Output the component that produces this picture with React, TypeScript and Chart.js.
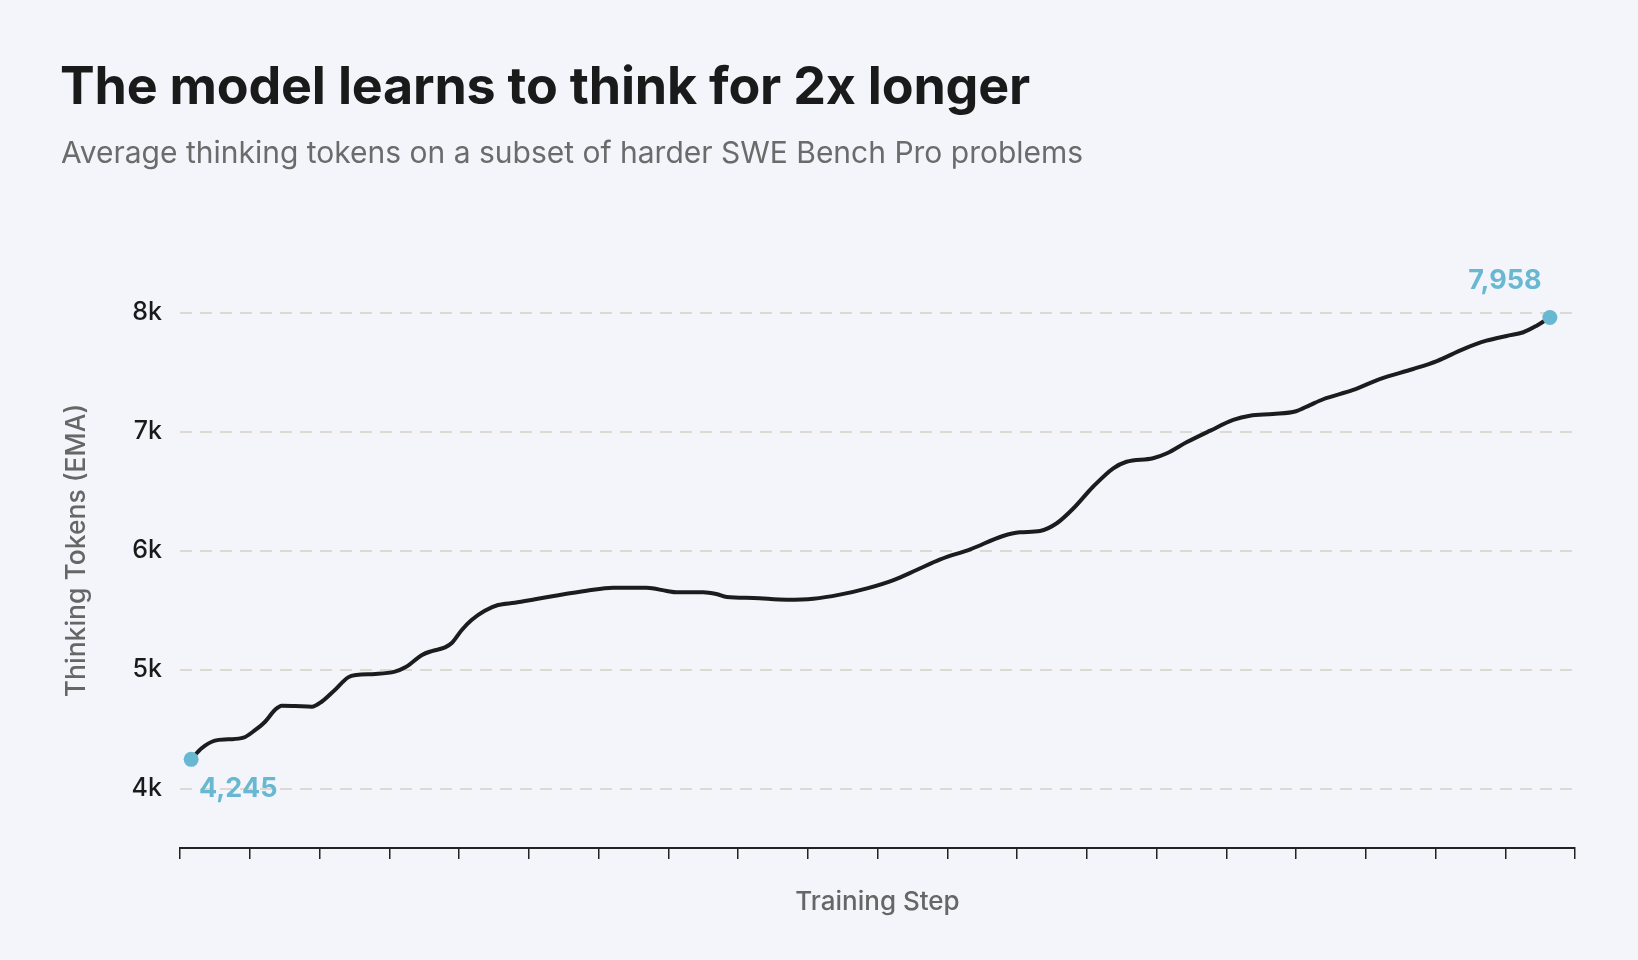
import React, { useEffect, useRef } from 'react';
import { Chart, registerables } from 'chart.js';

Chart.register(...registerables);

const TITLE = 'The model learns to think for 2x longer';
const SUBTITLE = 'Average thinking tokens on a subset of harder SWE Bench Pro problems';
const X_TITLE = 'Training Step';
const Y_TITLE = 'Thinking Tokens (EMA)';

const steps = [
  1.6, 3.1, 5.0, 6.9, 9.1, 10.8, 12.2, 13.6, 14.6, 16.5, 18.9, 20.3, 22.2, 24.1, 25.3, 28.0,
  30.8, 32.3, 34.7, 36.1, 38.0, 39.0, 40.4, 41.8, 43.7, 45.6, 48.0, 50.9, 53.8, 58.3, 62.1,
  66.9, 69.8, 71.2, 75.0, 76.9, 78.4, 82.2, 87.0, 90.8, 94.6, 98.5, 102.3, 105.6, 109.0, 113.3,
  118.0, 120.4, 123.3, 125.7, 128.1, 130.9, 133.8, 135.7, 139.5, 141.5, 144.3, 147.7, 151.0,
  153.4, 156.7, 160.0, 162.0, 163.9, 168.2, 172.0, 176.8, 180.2, 184.0, 187.3, 190.2, 192.6,
  194.5, 196.4,
];

const tokens = [
  4245, 4338, 4402, 4413, 4427, 4492, 4561, 4660, 4696, 4693, 4687, 4729, 4828, 4934, 4954, 4962,
  4982, 5018, 5122, 5155, 5186, 5225, 5332, 5416, 5494, 5542, 5561, 5590, 5620, 5662, 5687,
  5687, 5660, 5649, 5649, 5634, 5609, 5601, 5587, 5595, 5629, 5682, 5752, 5836, 5925, 6010,
  6122, 6153, 6164, 6229, 6355, 6536, 6691, 6746, 6775, 6817, 6909, 7007, 7097,
  7133, 7147, 7170, 7222, 7271, 7349, 7441, 7525, 7592, 7693, 7763, 7803, 7834,
  7889, 7958,
];

const yTickValues = [4000, 5000, 6000, 7000, 8000];
const yTickLabels = ['4k', '5k', '6k', '7k', '8k'];
const xRange = [0, 200];
const xTickStep = 10;

const BG = '#f4f5fb';
const ACCENT = '#69b8d1';

const endLabels = {
  id: 'endLabels',
  afterDatasetsDraw(chart: any) {
    const meta = chart.getDatasetMeta(0);
    const ctx = chart.ctx;
    const n = tokens.length;
    const items = [
      { i: 0, dx: 47, dy: 30 },
      { i: n - 1, dx: -45, dy: -37 },
    ];
    ctx.save();
    ctx.font = '700 27px Inter';
    ctx.fillStyle = ACCENT;
    ctx.textAlign = 'center';
    ctx.textBaseline = 'middle';
    for (const it of items) {
      const p = meta.data[it.i];
      ctx.fillText(tokens[it.i].toLocaleString('en-US'), p.x + it.dx, p.y + it.dy);
    }
    ctx.restore();
  },
};

export default function App() {
  const ref = useRef<HTMLCanvasElement | null>(null);

  useEffect(() => {
    document.body.style.margin = '0';
    document.body.style.background = BG;
    Chart.defaults.font.family = 'Inter';
    const n = tokens.length;
    const chart = new Chart(ref.current as HTMLCanvasElement, {
      type: 'line',
      data: {
        datasets: [
          {
            data: steps.map((s, i) => ({ x: s, y: tokens[i] })),
            borderColor: '#1c1c1e',
            borderWidth: 4,
            cubicInterpolationMode: 'monotone',
            pointRadius: (c: any) => (c.dataIndex === 0 || c.dataIndex === n - 1 ? 7.5 : 0),
            pointHoverRadius: 0,
            pointBackgroundColor: ACCENT,
            pointBorderWidth: 0,
            clip: false as any,
          },
        ],
      },
      options: {
        animation: false,
        responsive: false,
        devicePixelRatio: 1,
        layout: { padding: { left: 61, right: 63, top: 253, bottom: 0 } },
        plugins: { legend: { display: false }, tooltip: { enabled: false } },
        scales: {
          x: {
            type: 'linear',
            min: xRange[0],
            max: xRange[1],
            ticks: { display: false, stepSize: xTickStep },
            grid: {
              drawOnChartArea: false,
              drawTicks: true,
              tickLength: 11,
              color: '#222222',
              lineWidth: 1.5,
            },
            border: { display: true, color: '#222222', width: 2 },
            title: {
              display: true,
              text: X_TITLE,
              color: '#666666',
              font: { size: 26, weight: 500 as any },
              padding: { top: 0, bottom: 42 },
            },
            afterFit: (s: any) => {
              s.height = 112;
            },
          },
          y: {
            type: 'linear',
            min: 3500,
            max: 8500,
            afterBuildTicks: (s: any) => {
              s.ticks = yTickValues.map((v) => ({ value: v }));
            },
            ticks: {
              padding: 18,
              color: '#1a1a1a',
              font: { size: 25, weight: 500 as any },
              callback: (v: any) => {
                const idx = yTickValues.indexOf(Number(v));
                return idx >= 0 ? yTickLabels[idx] : '';
              },
            },
            grid: { drawTicks: false, color: '#dcd8d2', lineWidth: 2 },
            border: { display: false, dash: [12, 8] },
            title: {
              display: true,
              text: Y_TITLE,
              color: '#666666',
              font: { size: 26.5, weight: 500 as any },
              padding: { top: 0, bottom: 0 },
            },
            afterFit: (s: any) => {
              s.width = 119;
            },
          },
        },
      },
      plugins: [endLabels],
    } as any);
    return () => chart.destroy();
  }, []);

  return (
    <div style={{ position: 'relative', width: 1638, height: 960, background: BG, overflow: 'hidden' }}>
      <canvas ref={ref} width={1638} height={960} style={{ position: 'absolute', left: 0, top: 0 }} />
      <div
        style={{
          position: 'absolute',
          left: 60,
          top: 60,
          fontFamily: 'Inter',
          fontWeight: 700,
          fontSize: 52,
          lineHeight: 1,
          letterSpacing: '-0.2px',
          color: '#1a1a1a',
          whiteSpace: 'nowrap',
        }}
      >
        {TITLE}
      </div>
      <div
        style={{
          position: 'absolute',
          left: 61,
          top: 137,
          fontFamily: 'Inter',
          fontWeight: 400,
          fontSize: 30,
          lineHeight: 1,
          color: '#6b6b6b',
          whiteSpace: 'nowrap',
        }}
      >
        {SUBTITLE}
      </div>
    </div>
  );
}
